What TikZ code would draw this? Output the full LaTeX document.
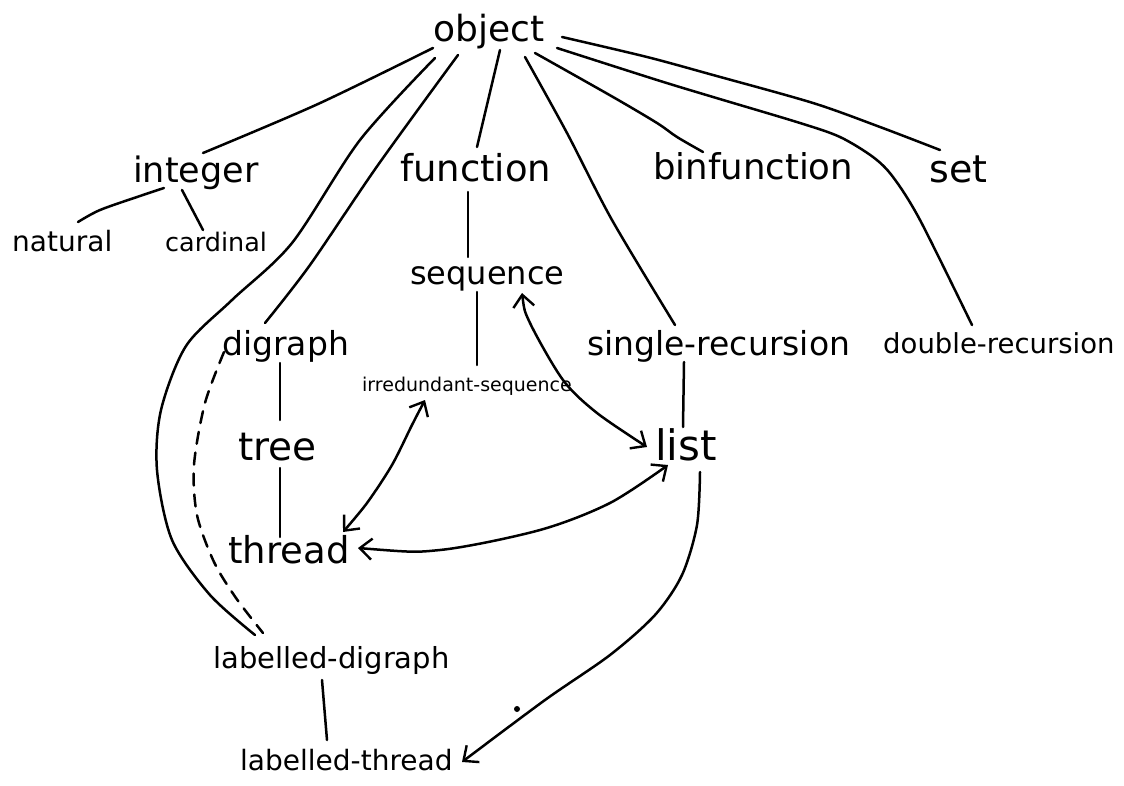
\documentclass[tikz,border=0pt]{standalone}
\usepackage{fontspec}
\setmainfont{DejaVu Sans}
\usetikzlibrary{arrows.meta}
\begin{document}
\begin{tikzpicture}[x=1pt,y=-1pt,
  hw/.style={inner sep=0pt, anchor=base west, font=\fontsize{#1pt}{#1pt}\selectfont},
  pen/.style={line width=2.5pt, line cap=round, line join=round},
  barb/.style={-{Straight Barb[length=12pt,width=21pt,line width=2.4pt]}},
  dbarb/.style={{Straight Barb[length=12pt,width=21pt,line width=2.4pt]}-{Straight Barb[length=12pt,width=21pt,line width=2.4pt]}},
  dashes/.style={dash pattern=on 12pt off 9pt}
]
\fill[white] (0,0) rectangle (1124,786);
\useasboundingbox (0,0) rectangle (1124,786);

% ---- labels ----
\node[hw=36]   (object)   at (433,42)  {object};
\node[hw=35]   (integer)  at (133,183) {integer};
\node[hw=28]   (natural)  at (12,252)  {natural};
\node[hw=25.5] (cardinal) at (165,252) {cardinal};
\node[hw=37]   (function) at (400,182) {function};
\node[hw=35.5] (binfunction) at (653,180) {binfunction};
\node[hw=38]   (set)      at (929,183) {set};
\node[hw=32]   (sequence) at (410,285) {sequence};
\node[hw=33]   (digraph)  at (222,355) {digraph};
\node[hw=19]   (irred)    at (362,391) {irredundant-sequence};
\node[hw=33]   (single)   at (587,355) {single-recursion};
\node[hw=27.5] (double)   at (883,353) {double-recursion};
\node[hw=39]   (tree)     at (238,460) {tree};
\node[hw=42]   (list)     at (655,460) {list};
\node[hw=37]   (thread)   at (228,563) {thread};
\node[hw=29]   (ldigraph) at (213,668) {labelled-digraph};
\node[hw=28]   (lthread)  at (240,770) {labelled-thread};

% ---- subtype links ----
\draw[pen] plot[smooth] coordinates {([shift={(0,6)}]object.base west) (318,104) ([shift={(70,-30)}]integer.base west)};
\draw[pen] plot[smooth] coordinates {([shift={(31,5)}]integer.base west) (140,196) (100,210) ([shift={(66,-30)}]natural.base west)};
\draw[pen] ([shift={(49,7)}]integer.base west) -- ([shift={(38,-22)}]cardinal.base west);
\draw[pen] ([shift={(67,8)}]object.base west) -- ([shift={(77,-35)}]function.base west);
\draw[pen] plot[smooth] coordinates {([shift={(25,13)}]object.base west) (378,165) (310,265) ([shift={(43,-32)}]digraph.base west)};
\draw[pen] plot[smooth] coordinates {([shift={(2,16)}]object.base west) (360,140) (292,243) (232,300) (186,346) (161,410) (157,470) (172,540) (210,595) ([shift={(42,-33)}]ldigraph.base west)};
\draw[pen,dashes] plot[smooth] coordinates {([shift={(2,-3)}]digraph.base west) (205,403) (194,465) (197,515) (214,562) (236,598) ([shift={(50,-35)}]ldigraph.base west)};
\draw[pen] plot[smooth] coordinates {([shift={(92,15)}]object.base west) (567,133) (612,220) ([shift={(88,-30)}]single.base west)};
\draw[pen] plot[smooth] coordinates {([shift={(102,11)}]object.base west) (613,97) (657,123) (677,137) ([shift={(50,-28)}]binfunction.base west)};
\draw[pen] plot[smooth] coordinates {([shift={(124,6)}]object.base west) (657,80) (713,97) (800,123) (840,137) (873,157) (893,177) (920,220) ([shift={(89,-28)}]double.base west)};
\draw[pen] plot[smooth] coordinates {([shift={(129,-5)}]object.base west) (647,57) (713,75) (813,103) (880,127) ([shift={(11,-33)}]set.base west)};
\draw[pen] ([shift={(68,10)}]function.base west) -- ([shift={(58,-28)}]sequence.base west);
\draw[pen] ([shift={(67,7)}]sequence.base west) -- ([shift={(115,-26)}]irred.base west);
\draw[pen] ([shift={(58,8)}]digraph.base west) -- ([shift={(42,-40)}]tree.base west);
\draw[pen] ([shift={(42,8)}]tree.base west) -- ([shift={(52,-26)}]thread.base west);
\draw[pen] ([shift={(97,7)}]single.base west) -- ([shift={(28,-33)}]list.base west);
\draw[pen] ([shift={(109,12)}]ldigraph.base west) -- ([shift={(87,-30)}]lthread.base west);

% ---- correspondences ----
\draw[pen,dbarb] plot[smooth] coordinates {([shift={(112,8)}]sequence.base west) (530,323) (563,380) (597,413) ([shift={(-8,-13)}]list.base west)};
\draw[pen,dbarb] plot[smooth] coordinates {([shift={(63,9)}]irred.base west) (412,425) (392,465) (367,503) ([shift={(115,-31)}]thread.base west)};
\draw[pen,dbarb] plot[smooth] coordinates {([shift={(130,-15)}]thread.base west) (440,550) (540,530) (610,503) ([shift={(13,5)}]list.base west)};
\draw[pen,barb] plot[smooth] coordinates {([shift={(45,12)}]list.base west) (697,525) (682,575) (655,615) (610,655) (545,700) ([shift={(222,-8)}]lthread.base west)};

% stray ink dot
\fill (517,709) circle (3pt);
\end{tikzpicture}
\end{document}
